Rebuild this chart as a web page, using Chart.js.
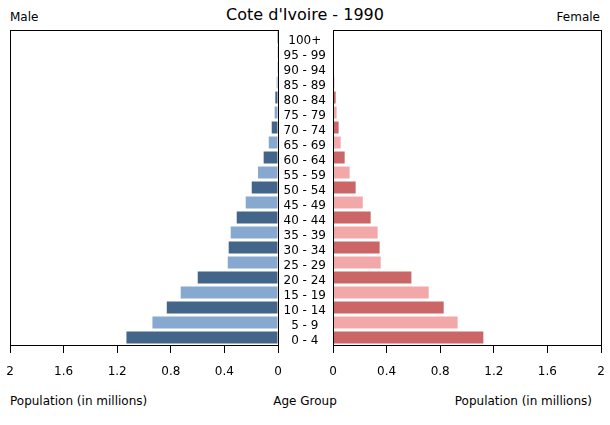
<!DOCTYPE html>
<html>
<head>
<meta charset="utf-8">
<script src="https://cdn.jsdelivr.net/npm/chart.js@4/dist/chart.umd.min.js"></script>
<style>
  body { margin: 0; width: 610px; height: 425px; position: relative; background: #fff;
         font-family: "DejaVu Sans", sans-serif; color: #000; overflow: hidden; }
  .txt { position: absolute; white-space: nowrap; }
  #left { position: absolute; left: 0; top: 0; }
  #right { position: absolute; left: 278px; top: 0; }
</style>
</head>
<body>
<div class="txt" style="left:0;width:610px;top:5px;text-align:center;font-size:16px;">Cote d'Ivoire - 1990</div>
<div class="txt" style="left:10px;top:10px;font-size:12px;">Male</div>
<div class="txt" style="right:10px;top:10px;font-size:12px;">Female</div>
<div class="txt" style="left:10px;top:394px;font-size:12px;">Population (in millions)</div>
<div class="txt" style="left:0;width:610px;top:394px;text-align:center;font-size:12px;">Age Group</div>
<div class="txt" style="right:18px;top:394px;font-size:12px;">Population (in millions)</div>

<canvas id="left" width="300" height="425"></canvas>
<canvas id="right" width="332" height="425"></canvas>

<script>
  "use strict";

  // Age groups, bottom to top
  const ageGroups = [
    "0 - 4", "5 - 9", "10 - 14", "15 - 19", "20 - 24", "25 - 29", "30 - 34",
    "35 - 39", "40 - 44", "45 - 49", "50 - 54", "55 - 59", "60 - 64", "65 - 69",
    "70 - 74", "75 - 79", "80 - 84", "85 - 89", "90 - 94", "95 - 99", "100+",
  ];

  // Population in millions
  const maleValues = [
    1.131, 0.937, 0.830, 0.726, 0.599, 0.375, 0.368, 0.353, 0.308, 0.241,
    0.196, 0.149, 0.107, 0.069, 0.047, 0.025, 0.020, 0.010, 0.005, 0.002, 0.001,
  ];
  const femaleValues = [
    1.122, 0.930, 0.826, 0.714, 0.585, 0.356, 0.348, 0.333, 0.281, 0.222,
    0.169, 0.124, 0.087, 0.057, 0.042, 0.027, 0.020, 0.010, 0.005, 0.002, 0.001,
  ];

  const popTicks = [0, 0.4, 0.8, 1.2, 1.6, 2];

  const maleColors = ["#44658a", "#87a8cf"];
  const femaleColors = ["#cc6666", "#f2a8a8"];

  Chart.defaults.font.family = "DejaVu Sans";
  Chart.defaults.font.size = 12;
  Chart.defaults.color = "#000";
  Chart.defaults.animation = false;

  // draw a black frame round the plot area
  const frame = {
    id: "frame",
    afterDatasetsDraw(chart) {
      const a = chart.chartArea;
      const ctx = chart.ctx;
      ctx.save();
      ctx.strokeStyle = "#000";
      ctx.lineWidth = 1;
      ctx.strokeRect(Math.round(a.left) + 0.5, Math.round(a.top) + 0.5,
        Math.round(a.right - a.left), Math.round(a.bottom - a.top));
      ctx.restore();
    },
  };

  function xScale(reverse) {
    return {
      type: "linear",
      min: 0,
      max: 2,
      reverse: reverse,
      afterBuildTicks: (s) => { s.ticks = popTicks.map((v) => ({ value: v })); },
      // end labels may hang over the padding, don't let them shrink the plot
      afterFit: (s) => { s.paddingLeft = 0; s.paddingRight = 0; },
      grid: { display: true, drawOnChartArea: false, drawTicks: true, tickLength: 8, color: "#000" },
      border: { display: true, color: "#000" },
      ticks: { padding: 12, maxRotation: 0, autoSkip: false, callback: (v) => String(v) },
    };
  }

  function barSet(values, colors) {
    return {
      data: values,
      backgroundColor: values.map((v, i) => colors[i % 2]),
      barPercentage: 0.8,
      categoryPercentage: 1,
    };
  }

  /* Male side */
  new Chart(document.getElementById("left"), {
    type: "bar",
    data: { labels: ageGroups, datasets: [barSet(maleValues, maleColors)] },
    plugins: [frame],
    options: {
      indexAxis: "y",
      responsive: false,
      layout: { padding: { left: 10, right: 22, top: 30, bottom: 33.6 } },
      plugins: { legend: { display: false }, tooltip: { enabled: false } },
      scales: {
        x: xScale(true),
        y: { reverse: true, display: false },
      },
    },
  });

  /* Female side, age labels on its left axis */
  new Chart(document.getElementById("right"), {
    type: "bar",
    data: { labels: ageGroups, datasets: [barSet(femaleValues, femaleColors)] },
    plugins: [frame],
    options: {
      indexAxis: "y",
      responsive: false,
      layout: { padding: { left: 0, right: 9, top: 30, bottom: 33.6 } },
      plugins: { legend: { display: false }, tooltip: { enabled: false } },
      scales: {
        x: xScale(false),
        y: {
          reverse: true,
          position: "left",
          afterFit: (s) => { s.width = 55; },
          grid: { display: false, drawTicks: false, tickLength: 0 },
          border: { display: false },
          ticks: { crossAlign: "center", padding: 7, labelOffset: 3, autoSkip: false },
        },
      },
    },
  });
</script>
</body>
</html>
